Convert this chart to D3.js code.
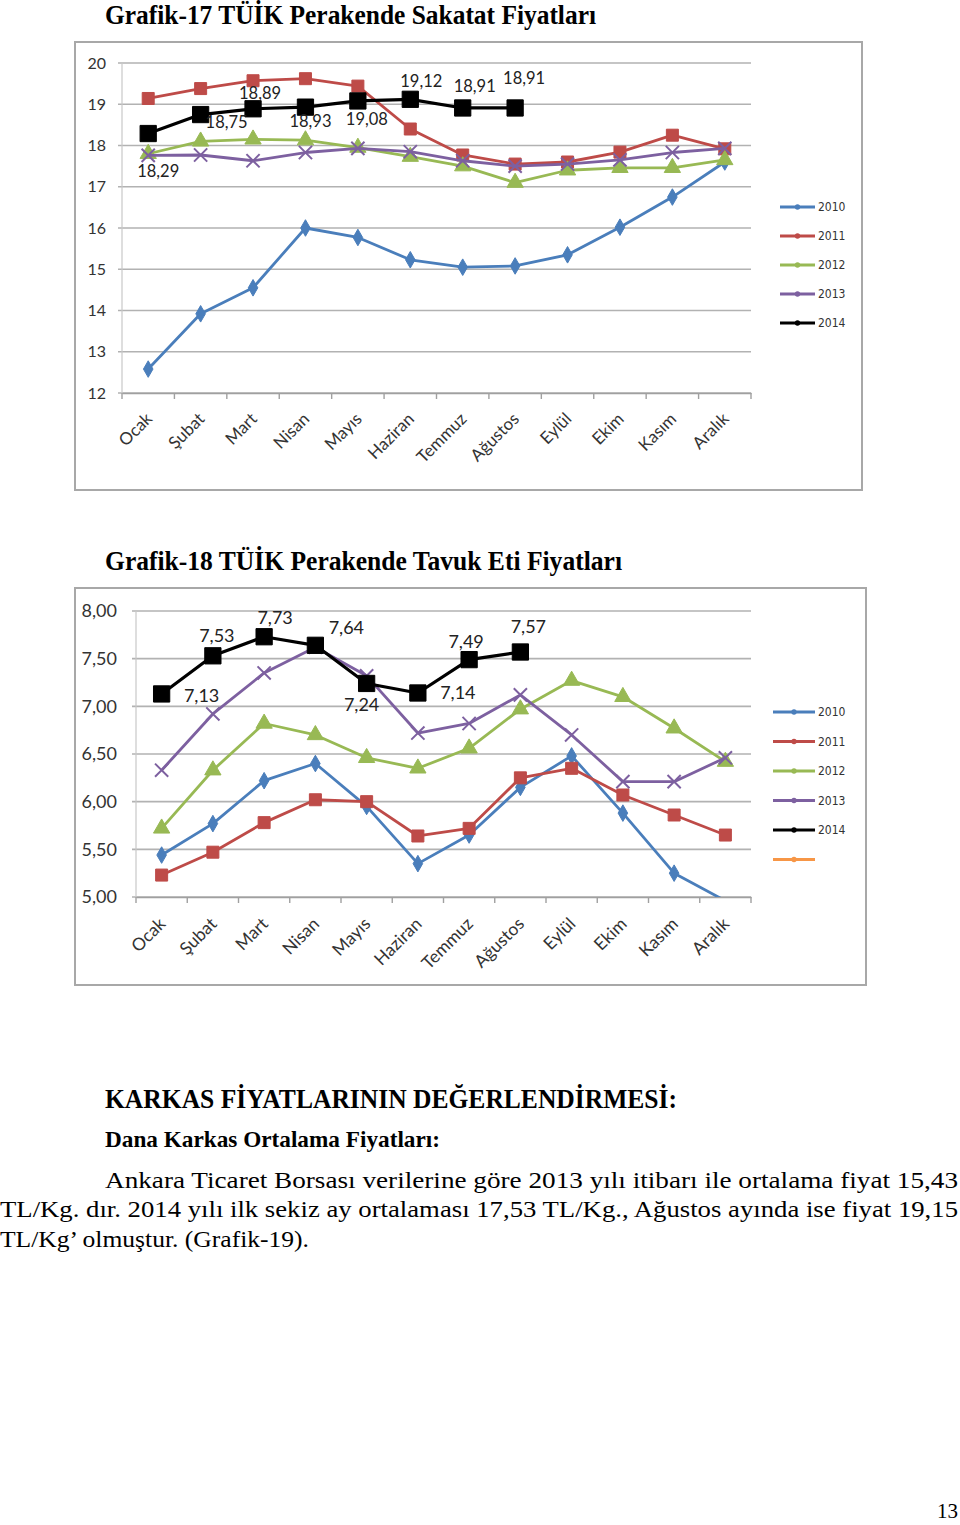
<!DOCTYPE html>
<html><head><meta charset="utf-8">
<script src="https://cdn.jsdelivr.net/npm/d3@7"></script>
<style>
body{margin:0;background:#fff;}
svg{display:block;}
</style></head>
<body>
<svg id="page" width="960" height="1525"></svg>
<script>
// ---------- DATA ----------
const months = ["Ocak","Şubat","Mart","Nisan","Mayıs","Haziran","Temmuz","Ağustos","Eylül","Ekim","Kasım","Aralık"];
const years = ["2010","2011","2012","2013","2014"];

// Grafik-17 Sakatat
const sakatat2010 = [12.58,13.92,14.55,16.0,15.77,15.23,15.05,15.08,15.35,16.02,16.75,17.6];
const sakatat2011 = [19.14,19.38,19.57,19.62,19.44,18.4,17.77,17.55,17.6,17.84,18.25,17.92];
const sakatat2012 = [17.8,18.1,18.15,18.13,17.95,17.73,17.5,17.1,17.4,17.46,17.46,17.65];
const sakatat2013 = [17.76,17.77,17.63,17.83,17.93,17.85,17.63,17.5,17.55,17.65,17.83,17.93];
const sakatat2014 = [18.29,18.75,18.89,18.93,19.08,19.12,18.91,18.91];
const sakatatTicks = [12,13,14,15,16,17,18,19,20];

// Grafik-18 Tavuk eti
const tavuk2010 = [5.44,5.77,6.22,6.4,5.95,5.35,5.65,6.15,6.48,5.88,5.25,4.96];
const tavuk2011 = [5.23,5.47,5.78,6.02,6.0,5.64,5.72,6.25,6.35,6.07,5.86,5.65];
const tavuk2012 = [5.72,6.33,6.82,6.7,6.46,6.35,6.56,6.97,7.27,7.1,6.77,6.42];
const tavuk2013 = [6.33,6.92,7.35,7.62,7.32,6.72,6.82,7.12,6.7,6.21,6.21,6.46];
const tavuk2014 = [7.13,7.53,7.73,7.64,7.24,7.14,7.49,7.57];
const tavukTicks = [5.0,5.5,6.0,6.5,7.0,7.5,8.0];

// ---------- STYLE ----------
const colors = {"2010":"#4A7EBB","2011":"#BE4B48","2012":"#98B954","2013":"#7D60A0","2014":"#000000"};
const markerType = {"2010":"diamond","2011":"square","2012":"triangle","2013":"x","2014":"bigsquare"};
const fmt = d3.format(".2f");
const comma = v => fmt(v).replace(".", ",");

const svg = d3.select("#page");
const serif = "'Liberation Serif','Times New Roman',serif";
const sans = "Lato,'Open Sans',sans-serif";

function markerPath(type, size){
  if(type==="diamond") return d3.symbol(d3.symbolDiamond, size*size*0.55)();
  if(type==="square") return d3.symbol(d3.symbolSquare, size*size)();
  if(type==="bigsquare") return d3.symbol(d3.symbolSquare, size*size*1.35)();
  if(type==="triangle") return d3.symbol(d3.symbolTriangle, size*size*0.8)();
  if(type==="x"){ const h=size*0.55; return `M${-h},${-h}L${h},${h}M${-h},${h}L${h},${-h}`; }
}

function drawChart(cfg){
  const g = svg.append("g");
  g.append("rect").attr("x",cfg.frame[0]).attr("y",cfg.frame[1])
    .attr("width",cfg.frame[2]-cfg.frame[0]).attr("height",cfg.frame[3]-cfg.frame[1])
    .attr("fill","#fff").attr("stroke","#a8a8a8").attr("stroke-width",2);
  svg.append("text").attr("x",105).attr("y",cfg.titleY).text(cfg.title)
    .attr("font-family",serif).attr("font-weight","bold").attr("font-size",28).attr("fill","#000")
    .attr("textLength",cfg.titleW).attr("lengthAdjust","spacingAndGlyphs");

  const x = d3.scaleBand().domain(months).range(cfg.xRange).padding(0);
  const cx = i => x(months[i])+x.bandwidth()/2;
  const y = d3.scaleLinear().domain(cfg.yDomain).range(cfg.yRange);

  g.append("g").selectAll("line").data(cfg.ticks).join("line")
    .attr("x1",cfg.xRange[0]-4).attr("x2",cfg.xRange[1]).attr("y1",d=>y(d)).attr("y2",d=>y(d))
    .attr("stroke","#b2b2b2").attr("stroke-width",1.6);
  g.append("line").attr("x1",cfg.xRange[0]).attr("x2",cfg.xRange[0])
    .attr("y1",y(cfg.yDomain[0])).attr("y2",y(cfg.yDomain[1])).attr("stroke","#c8c8c8").attr("stroke-width",1.2);
  const xAxis = d3.axisBottom(x).tickSizeOuter(0).tickSizeInner(6).tickFormat("");
  const xa = g.append("g").attr("transform",`translate(0,${y(cfg.yDomain[0])})`).call(xAxis);
  xa.select(".domain").attr("stroke","#a0a0a0").attr("stroke-width",1.6);
  xa.selectAll(".tick").remove();
  xa.selectAll("line.bt").data(d3.range(months.length+1)).join("line").attr("class","bt")
    .attr("x1",i=>cfg.xRange[0]+i*x.bandwidth()).attr("x2",i=>cfg.xRange[0]+i*x.bandwidth())
    .attr("y1",0).attr("y2",6).attr("stroke","#a0a0a0").attr("stroke-width",1.4);
  g.append("g").selectAll("text").data(months).join("text")
    .attr("transform",(m,i)=>`translate(${cx(i)+5},${y(cfg.yDomain[0])+cfg.labelDy}) rotate(-45)`)
    .attr("text-anchor","end").attr("font-family",sans).attr("font-size",cfg.monthFont).attr("fill","#333")
    .text(m=>m);
  g.append("g").selectAll("text").data(cfg.ticks).join("text")
    .attr("x",cfg.yLabelX).attr("y",d=>y(d)).attr("dy","0.35em").attr("text-anchor","end")
    .attr("font-family",sans).attr("font-size",cfg.yFont).attr("fill","#333")
    .text(cfg.tickFmt);

  const clipId = "clip"+cfg.id;
  svg.append("clipPath").attr("id",clipId).append("rect")
    .attr("x",cfg.xRange[0]-20).attr("y",y(cfg.yDomain[1])-30)
    .attr("width",cfg.xRange[1]-cfg.xRange[0]+40).attr("height",y(cfg.yDomain[0])-y(cfg.yDomain[1])+30);
  const pg = g.append("g").attr("clip-path",`url(#${clipId})`);

  const line = d3.line().x(d=>cx(d.i)).y(d=>y(d.v));
  cfg.series.forEach((vals,si)=>{
    const yr = years[si];
    const pts = vals.map((v,i)=>({v,i}));
    const sg = pg.append("g");
    sg.append("path").datum(pts).attr("d",line).attr("fill","none")
      .attr("stroke",colors[yr]).attr("stroke-width",yr==="2014"?3.2:2.8).attr("stroke-linejoin","round");
    sg.selectAll("path.m").data(pts.filter(p=>p.v>=cfg.yDomain[0])).join("path").attr("class","m")
      .attr("transform",p=>`translate(${cx(p.i)},${y(p.v)})`)
      .attr("d",markerPath(markerType[yr], yr==="2014"?cfg.msize+2:cfg.msize))
      .attr("fill",markerType[yr]==="x"?"none":colors[yr])
      .attr("stroke",colors[yr]).attr("stroke-width",markerType[yr]==="x"?2:1);
  });
  const last = cfg.series[4];
  g.append("g").selectAll("text").data(last).join("text")
    .attr("x",(d,i)=>cx(i)+cfg.labelOff[i][0])
    .attr("y",(d,i)=>y(d)+cfg.labelOff[i][1]).attr("dy","0.35em")
    .attr("text-anchor","middle").attr("font-family",sans).attr("font-size",cfg.dlFont).attr("fill","#222")
    .text(d=>comma(d));

  const lg = g.append("g");
  years.concat(cfg.extraLegend?["extra"]:[]).forEach((yr,i)=>{
    const ly = cfg.legendY + i*cfg.legendStep;
    const col = yr==="extra" ? "#F79646" : colors[yr];
    lg.append("line").attr("x1",cfg.legendX).attr("x2",cfg.legendX+cfg.legendW).attr("y1",ly).attr("y2",ly)
      .attr("stroke",col).attr("stroke-width",3);
    lg.append("path").attr("transform",`translate(${cfg.legendX+cfg.legendW/2},${ly})`)
      .attr("d",d3.symbol(d3.symbolCircle,22)()).attr("fill",col);
    if(yr!=="extra") lg.append("text").attr("x",cfg.legendX+cfg.legendW+3).attr("y",ly).attr("dy","0.35em")
      .attr("font-family","'Liberation Sans Narrow','DejaVu Sans Condensed',sans-serif").attr("font-size",12).attr("fill","#333").text(yr);
  });
}

drawChart({
  id:1, title:"Grafik-17 TÜİK Perakende Sakatat Fiyatları", titleY:24, titleW:491,
  frame:[75,42,862,490], xRange:[122,751], yDomain:[12,20], yRange:[393,63],
  ticks:sakatatTicks, tickFmt:d=>d, yLabelX:106, yFont:16, monthFont:17, labelDy:27, msize:12, dlFont:16.5,
  series:[sakatat2010,sakatat2011,sakatat2012,sakatat2013,sakatat2014],
  labelOff:[[10,38],[26,8],[7,-16],[5,14],[9,18],[11,-18],[12,-22],[9,-30]],
  legendX:780, legendW:35, legendY:207, legendStep:29, extraLegend:false
});

drawChart({
  id:2, title:"Grafik-18 TÜİK Perakende Tavuk Eti Fiyatları", titleY:570, titleW:517,
  frame:[75,588,866,985], xRange:[136,751], yDomain:[5,8], yRange:[897,611],
  ticks:tavukTicks, tickFmt:d=>comma(d), yLabelX:117, yFont:18, monthFont:17.5, labelDy:28, msize:12, dlFont:18,
  series:[tavuk2010,tavuk2011,tavuk2012,tavuk2013,tavuk2014],
  labelOff:[[40,2],[4,-20],[11,-19],[31,-18],[-5,21],[40,0],[-3,-18],[8,-25]],
  legendX:773, legendW:42, legendY:712, legendStep:29.5, extraLegend:true
});

// ---------- TEXT BELOW ----------
svg.append("text").attr("x",105).attr("y",1108).attr("font-family",serif).attr("font-weight","bold")
  .attr("font-size",27).attr("textLength",572).attr("lengthAdjust","spacingAndGlyphs")
  .text("KARKAS FİYATLARININ DEĞERLENDİRMESİ:");
svg.append("text").attr("x",105).attr("y",1147).attr("font-family",serif).attr("font-weight","bold")
  .attr("font-size",23).attr("textLength",335).attr("lengthAdjust","spacingAndGlyphs")
  .text("Dana Karkas Ortalama Fiyatları:");
const para = [
  {t:"Ankara Ticaret Borsası verilerine göre 2013 yılı itibarı ile ortalama fiyat 15,43", x:105, w:853},
  {t:"TL/Kg. dır. 2014 yılı ilk sekiz ay ortalaması 17,53 TL/Kg., Ağustos ayında ise fiyat 19,15", x:0, w:958},
  {t:"TL/Kg’ olmuştur. (Grafik-19).", x:0, w:309}
];
para.forEach((p,i)=>{
  svg.append("text").attr("x",p.x).attr("y",1188+i*29.3).attr("font-family",serif)
    .attr("font-size",23).attr("fill","#000").attr("textLength",p.w).attr("lengthAdjust","spacingAndGlyphs").text(p.t);
});
svg.append("text").attr("x",958).attr("y",1518).attr("text-anchor","end").attr("font-family",serif)
  .attr("font-size",21).text("13");
</script>
</body></html>
